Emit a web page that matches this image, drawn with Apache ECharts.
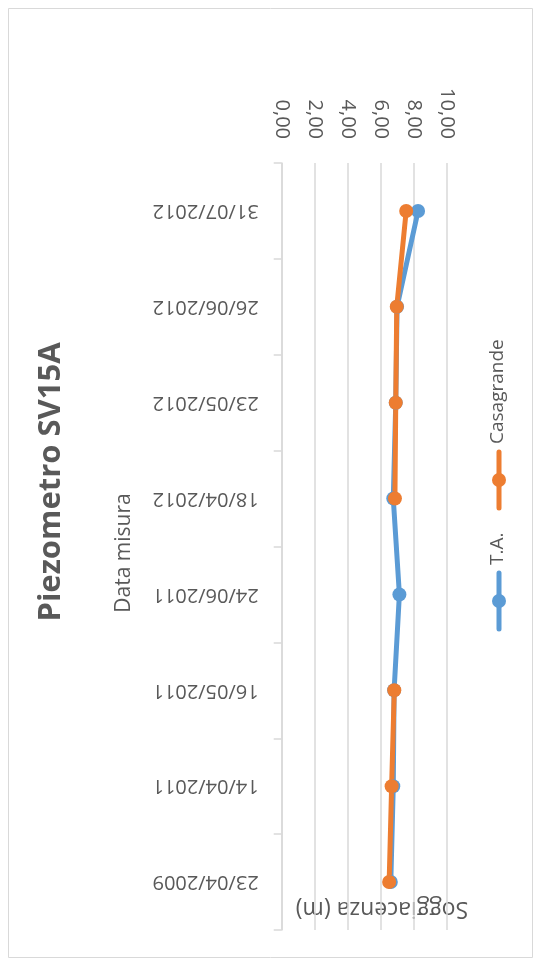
<!DOCTYPE html>
<html>
<head>
<meta charset="utf-8">
<script src="https://cdn.jsdelivr.net/npm/echarts@6/dist/echarts.min.js"></script>
<style>
  html, body { margin: 0; padding: 0; background: #ffffff; }
  #chart { width: 542px; height: 967px; }
</style>
</head>
<body>
<div id="chart"></div>
<script>
// Survey dates (chronological, drawn bottom to top)
const dates = ['23/04/2009', '14/04/2011', '16/05/2011', '24/06/2011', '18/04/2012', '23/05/2012', '26/06/2012', '31/07/2012'];
// Water table depth (m) per piezometer reading
const seriesTA = [6.6, 6.75, 6.8, 7.12, 6.75, 6.9, 6.98, 8.25];
const seriesCasagrande = [6.5, 6.65, 6.81, null, 6.85, 6.9, 6.96, 7.53];
// Depth axis ticks
const depthTicks = [0, 2, 4, 6, 8, 10];

const textColor = '#595959';
const gridColor = '#d9d9d9';
const blue = '#5B9BD5';
const orange = '#ED7D31';
const font = '"Open Sans", "DejaVu Sans", sans-serif';

const chart = echarts.init(document.getElementById('chart'));

function legendItem(color, label, cy) {
  return {
    type: 'group',
    children: [
      { type: 'line', shape: { x1: 499, y1: cy - 28, x2: 499, y2: cy + 28 },
        style: { stroke: color, lineWidth: 5, lineCap: 'round' } },
      { type: 'circle', shape: { cx: 499, cy: cy, r: 7 }, style: { fill: color } },
      { type: 'text', x: 498, y: cy - 36, rotation: Math.PI / 2,
        style: { text: label, fill: textColor, font: '19px ' + font,
                 textAlign: 'left', textVerticalAlign: 'middle' } }
    ]
  };
}

chart.setOption({
  animation: false,
  backgroundColor: '#ffffff',
  grid: { left: 281.7, right: 95, top: 163, bottom: 37, containLabel: false },
  xAxis: {
    type: 'value',
    position: 'top',
    min: depthTicks[0],
    max: depthTicks[depthTicks.length - 1],
    interval: 2,
    axisLine: { show: false },
    axisTick: { show: false },
    splitLine: { show: true, lineStyle: { color: gridColor, width: 1.5 } },
    axisLabel: {
      rotate: 90, margin: 24, color: textColor, fontSize: 20, fontFamily: font,
      formatter: v => v.toFixed(2).replace('.', ',')
    }
  },
  yAxis: {
    type: 'category',
    data: dates,
    boundaryGap: true,
    name: 'Data misura',
    nameLocation: 'middle',
    nameRotate: 90,
    nameGap: 147,
    nameTextStyle: { color: textColor, fontSize: 21, fontFamily: font, padding: [0, 13, 0, 0] },
    axisLine: { show: true, lineStyle: { color: gridColor, width: 1.5 } },
    axisTick: { show: true, length: 8, lineStyle: { color: gridColor, width: 1.5 } },
    splitLine: { show: false },
    axisLabel: { rotate: 180, margin: 23, color: textColor, fontSize: 20, fontFamily: font }
  },
  series: [
    {
      name: 'T.A.', type: 'line', data: seriesTA,
      symbol: 'circle', symbolSize: 14, connectNulls: false,
      lineStyle: { color: blue, width: 5 }, itemStyle: { color: blue }
    },
    {
      name: 'Casagrande', type: 'line', data: seriesCasagrande,
      symbol: 'circle', symbolSize: 14, connectNulls: false,
      lineStyle: { color: orange, width: 5 }, itemStyle: { color: orange }
    }
  ],
  graphic: [
    { type: 'rect', shape: { x: 8.5, y: 8.5, width: 524, height: 949 },
      style: { fill: 'none', stroke: gridColor, lineWidth: 1 }, silent: true },
    { type: 'text', x: 51, y: 482, rotation: Math.PI / 2,
      style: { text: 'Piezometro SV15A', fill: textColor, font: 'bold 31px ' + font,
               textAlign: 'center', textVerticalAlign: 'middle' } },
    { type: 'text', x: 382, y: 909, rotation: Math.PI,
      style: { text: 'Soggiacenza (m)', fill: textColor, font: '23px ' + font,
               textAlign: 'center', textVerticalAlign: 'middle' } },
    legendItem(blue, 'T.A.', 601),
    legendItem(orange, 'Casagrande', 480)
  ]
});
</script>
</body>
</html>
